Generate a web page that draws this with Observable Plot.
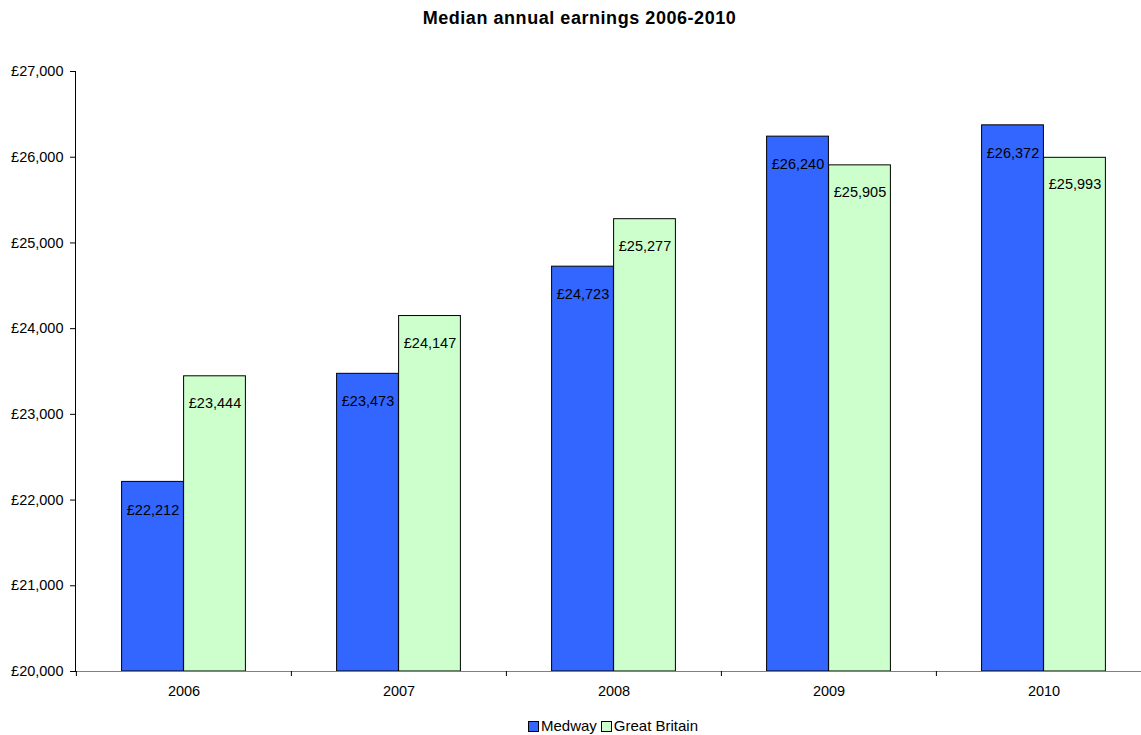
<!DOCTYPE html>
<html>
<head>
<meta charset="utf-8">
<script src="https://cdn.jsdelivr.net/npm/d3@7"></script>
<script src="https://cdn.jsdelivr.net/npm/@observablehq/plot@0.6"></script>
<style>
  body { margin: 0; background: #fff; font-family: "Liberation Sans", Arial, sans-serif; overflow: hidden; }
  #title { height: 36px; line-height: 36px; text-align: center; font-weight: bold; font-size: 18px; letter-spacing: 0.55px; color: #000; width: 1159px; }
  #legend { width: 1230px; text-align: center; font-size: 15px; color: #000; height: 24px; line-height: 24px; padding-top: 3px; }
  .sw { display: inline-block; width: 9px; height: 9px; border: 1px solid #000; vertical-align: -1px; margin-right: 2px; }
</style>
</head>
<body>
<div id="title">Median annual earnings 2006-2010</div>
<div id="chart"></div>
<div id="legend"></div>
<script>
const years = ["2006", "2007", "2008", "2009", "2010"];
const medway = [22212, 23473, 24723, 26240, 26372];
const greatBritain = [23444, 24147, 25277, 25905, 25993];
const seriesNames = ["Medway", "Great Britain"];
const seriesColors = ["#3366FF", "#CCFFCC"];
const yTicks = [20000, 21000, 22000, 23000, 24000, 25000, 26000, 27000];

const rows = [];
years.forEach((y, i) => {
  rows.push({year: y, series: "Medway", value: medway[i]});
  rows.push({year: y, series: "Great Britain", value: greatBritain[i]});
});
const med = rows.filter(d => d.series === "Medway");
const gb = rows.filter(d => d.series === "Great Britain");

const x0 = 75, x1 = 1151;
const bw = (x1 - x0) / years.length;
const barW = 62;
const fmt = v => "£" + d3.format(",")(v);
const FS = 14.5;

const chart = Plot.plot({
  width: 1141,
  height: 675,
  marginTop: 35,
  marginBottom: 40,
  marginLeft: 75,
  marginRight: 0,
  style: {fontFamily: "Liberation Sans, Arial, sans-serif", fontSize: FS + "px", color: "#000", background: "#fff"},
  x: {domain: years, range: [x0, x1], padding: 0, label: null},
  y: {domain: [20000, 27000], ticks: yTicks, label: null, tickFormat: fmt},
  marks: [
    Plot.barY(med, {x: "year", y1: 20000, y2: "value", fill: seriesColors[0], stroke: "#000", strokeWidth: 1,
      insetLeft: bw / 2 - barW, insetRight: bw / 2}),
    Plot.barY(gb, {x: "year", y1: 20000, y2: "value", fill: seriesColors[1], stroke: "#000", strokeWidth: 1,
      insetLeft: bw / 2, insetRight: bw / 2 - barW}),
    Plot.text(med, {x: "year", y: "value", text: d => fmt(d.value), dx: -barW / 2, dy: 28, fill: "#000", fontSize: FS}),
    Plot.text(gb, {x: "year", y: "value", text: d => fmt(d.value), dx: barW / 2, dy: 27, fill: "#000", fontSize: FS}),
    Plot.frame({anchor: "bottom", stroke: "#808080"}),
    Plot.frame({anchor: "left", stroke: "#000"}),
    Plot.axisY({ticks: yTicks, tickFormat: fmt, tickSize: 5, tickPadding: 7, stroke: "#000", fill: "#000", fontSize: FS, label: null}),
    Plot.axisX({tickSize: 5, tickFormat: () => "", dx: -bw / 2, stroke: "#000", label: null}),
    Plot.axisX({tickSize: 0, tickPadding: 14, fill: "#000", fontSize: FS, label: null})
  ]
});
document.getElementById("chart").appendChild(chart);

const legend = document.getElementById("legend");
seriesNames.forEach((n, i) => {
  const s = document.createElement("span");
  s.style.marginRight = "4px";
  s.innerHTML = `<span class="sw" style="background:${seriesColors[i]}"></span>${n}`;
  legend.appendChild(s);
});
</script>
</body>
</html>
